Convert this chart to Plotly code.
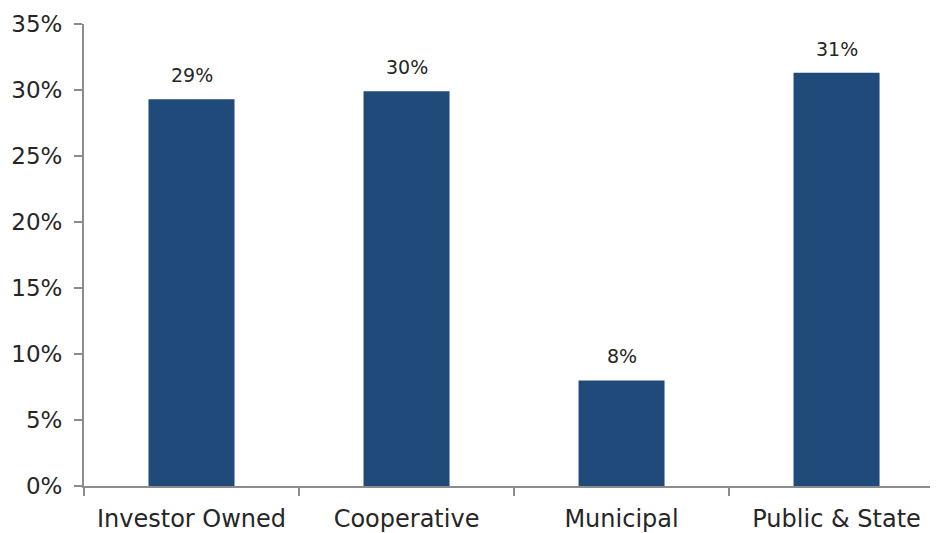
import plotly.graph_objects as go

categories = ["Investor Owned", "Cooperative", "Municipal", "Public & State"]
values = [29.3, 29.9, 8.0, 31.3]
y_ticks = [0, 5, 10, 15, 20, 25, 30, 35]
y_tick_text = ["0%", "5%", "10%", "15%", "20%", "25%", "30%", "35%"]

FONT = "DejaVu Sans"
TXT = "#262626"
AX = "#8c8c8c"

fig = go.Figure()
fig.add_trace(go.Bar(
    x=categories, y=values, width=0.4,
    marker=dict(color="#204a7a", line=dict(width=0)),
    hoverinfo="skip",
))

for c, v in zip(categories, values):
    fig.add_annotation(x=c, y=v, text=f"{v:.0f}%", showarrow=False,
                       yanchor="bottom", yshift=11,
                       font=dict(family=FONT, size=19, color=TXT))

fig.update_layout(
    width=938, height=533,
    margin=dict(l=76, r=0, t=16, b=55),
    plot_bgcolor="white", paper_bgcolor="white",
    showlegend=False,
    font=dict(family=FONT, color=TXT),
    xaxis=dict(
        range=[-0.5, 3.509], tickson="boundaries",
        ticks="outside", ticklen=8, tickwidth=2, tickcolor=AX,
        showline=True, linecolor=AX, linewidth=2,
        tickfont=dict(family=FONT, size=24, color=TXT),
        ticklabelstandoff=10, automargin=False,
        showgrid=False, zeroline=False,
    ),
    yaxis=dict(
        range=[0, 35], tickvals=y_ticks, ticktext=y_tick_text,
        ticks="outside", ticklen=8, tickwidth=2, tickcolor=AX,
        showline=True, linecolor=AX, linewidth=2,
        tickfont=dict(family=FONT, size=23, color=TXT),
        ticklabelstandoff=7, automargin=False,
        showgrid=False, zeroline=False,
    ),
)

fig.write_html("out.html")
